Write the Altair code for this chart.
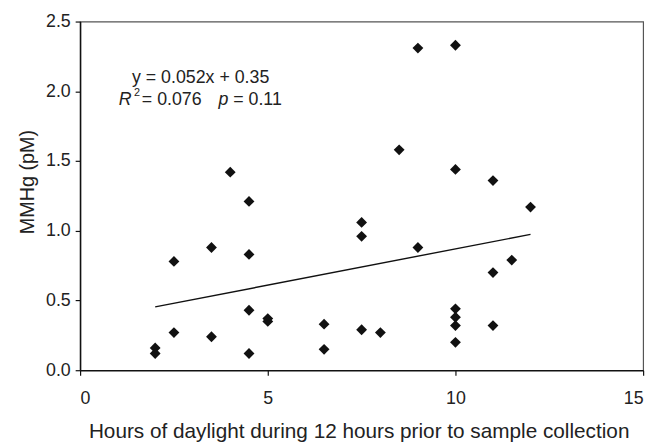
import altair as alt
import pandas as pd

# Hours of daylight (x) and MMHg concentration (y)
hours = [2, 2, 2.5, 2.5, 3.5, 3.5, 4, 4.5, 4.5, 4.5, 4.5, 5, 5, 6.5, 6.5,
         7.5, 7.5, 7.5, 8, 8.5, 9, 9, 10, 10, 10, 10, 10, 10, 11, 11, 11, 11.5, 12]
mmhg = [0.16, 0.12, 0.78, 0.27, 0.88, 0.24, 1.42, 1.21, 0.83, 0.43, 0.12, 0.37, 0.35, 0.33, 0.15,
        1.06, 0.96, 0.29, 0.27, 1.58, 2.31, 0.88, 2.33, 1.44, 0.44, 0.38, 0.32, 0.20, 1.36, 0.70, 0.32, 0.79, 1.17]

slope = 0.052
intercept = 0.35
fit_x = [2, 12]

x_ticks = [0, 5, 10, 15]
y_ticks = [0.0, 0.5, 1.0, 1.5, 2.0, 2.5]

df = pd.DataFrame({"x": hours, "y": mmhg})
fit = pd.DataFrame({"x": fit_x, "y": [slope * v + intercept for v in fit_x]})

FONT = "Liberation Sans"
W, H = 570, 353

xscale = alt.Scale(domain=[0, 15], nice=False)
yscale = alt.Scale(domain=[0, 2.5], nice=False)

xaxis = alt.Axis(values=x_ticks, format="d", title="Hours of daylight during 12 hours prior to sample collection",
                 grid=False, tickSize=5, labelPadding=15, labelFontSize=18,
                 titleFontSize=21, titleX=282, titleY=68, titleBaseline="alphabetic", titleAnchor="middle")
yaxis = alt.Axis(values=y_ticks, format=".1f", title="MMHg (pM)", grid=False, tickSize=5,
                 labelPadding=5, labelFontSize=18,
                 titleFontSize=20, titleX=-47, titleY=162, titleBaseline="alphabetic", titleAnchor="middle")

points = alt.Chart(df).mark_point(shape="diamond", filled=True, size=120, color="#111111", opacity=1).encode(
    x=alt.X("x:Q", scale=xscale, axis=xaxis),
    y=alt.Y("y:Q", scale=yscale, axis=yaxis),
)

line = alt.Chart(fit).mark_line(color="#111111", strokeWidth=1.4).encode(
    x=alt.X("x:Q", scale=xscale),
    y=alt.Y("y:Q", scale=yscale),
)

def txt(s, x, y, size=18, style="normal", align="left"):
    return alt.Chart(pd.DataFrame({"t": [s]})).mark_text(
        font=FONT, fontSize=size, fontStyle=style, align=align, baseline="alphabetic", color="#222222"
    ).encode(text="t:N", x=alt.value(x), y=alt.value(y))

texts = [
    txt("y = 0.052x + 0.35", 122, 62.5, align="center"),
    txt("R", 39, 84.3, style="italic"),
    txt("2", 54.5, 75.6, size=11),
    txt("= 0.076", 62.5, 84.3),
    txt("p", 140, 84.3, style="italic"),
    txt("= 0.11", 155, 84.3),
]

chart = alt.layer(points, line, *texts).properties(
    width=W, height=H,
    autosize=alt.AutoSizeParams(type="none"),
    padding={"left": 73, "top": 11, "right": 10, "bottom": 74},
).configure_view(stroke="#555555", strokeWidth=1.2).configure_axis(
    domainColor="#111111", domainWidth=1.5, tickColor="#111111", tickWidth=1.2,
    labelFont=FONT, labelColor="#222222",
    titleFont=FONT, titleFontWeight="normal", titleColor="#222222",
)

chart.save("out.html", embed_options={"renderer": "svg", "actions": False})
